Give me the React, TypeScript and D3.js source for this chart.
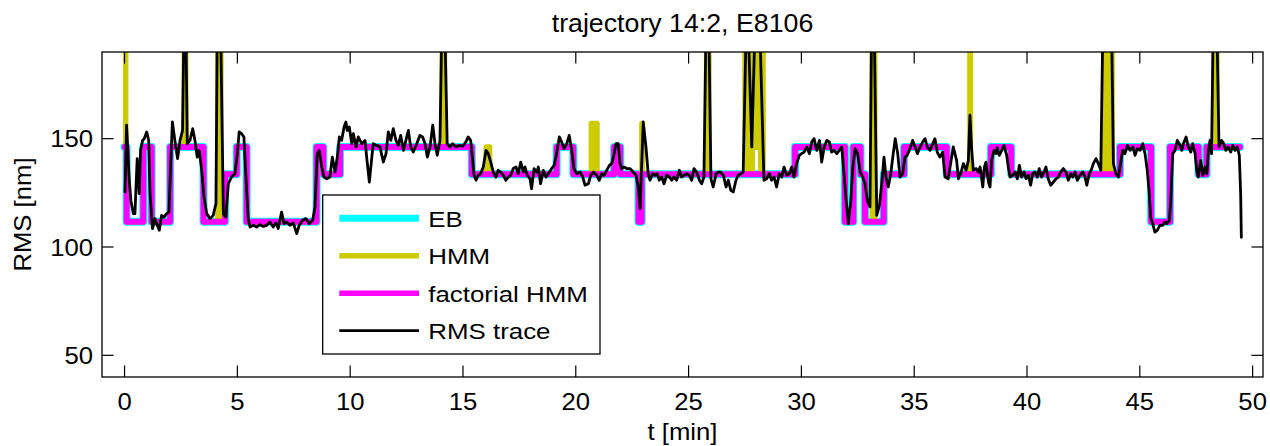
import React from 'react';
import * as d3 from 'd3';

// state levels (nm)
const H = 146.2, M = 133.6, L = 111.6, TOP = 260;

const xTicks = [0, 5, 10, 15, 20, 25, 30, 35, 40, 45, 50];
const yTicks = [50, 100, 150];

const ebT = [0, 0.09, 0.83, 1.2, 2.02, 3.5, 4.45, 4.97, 5.41, 8.51, 8.81, 9.55, 15.39, 19.15, 19.89, 21.7, 21.97, 22.78, 22.92, 29.72, 31.93, 32.3, 32.62, 32.82, 33.65, 34.55, 36.44, 38.4, 39.3, 44.12, 45.5, 46.34, 47.6, 47.96, 49.44];
const ebV = [H, L, H, L, H, L, M, H, L, H, M, H, M, H, M, H, M, L, M, H, L, H, M, L, M, H, M, H, M, H, L, H, M, H, H];

const fhmmT = [0, 0.09, 0.83, 1.2, 2.02, 3.5, 4.45, 4.97, 5.41, 8.51, 8.81, 9.55, 15.39, 19.15, 19.89, 21.7, 21.97, 22.78, 22.92, 29.72, 31.93, 32.3, 32.62, 32.82, 33.65, 34.55, 36.44, 38.4, 39.3, 44.12, 45.5, 46.34, 47.6, 47.96, 49.44];
const fhmmV = [H, L, H, L, H, L, M, H, L, H, M, H, M, H, M, H, M, L, M, H, L, H, M, L, M, H, M, H, M, H, L, H, M, H, H];

const hmmT = [0, 0.05, 0.09, 0.83, 1.2, 2.02, 2.65, 2.71, 3.5, 4.14, 4.27, 4.45, 4.97, 5.41, 8.51, 8.81, 9.55, 14.08, 14.18, 15.39, 16.03, 16.18, 19.15, 19.89, 20.69, 20.79, 20.83, 20.94, 21.7, 21.97, 22.93, 22.95, 25.8, 25.9, 27.5, 27.6, 27.66, 27.76, 27.82, 27.9, 28.12, 28.2, 28.24, 28.3, 29.72, 31.93, 32.3, 32.62, 32.82, 33.14, 33.25, 33.65, 34.55, 36.44, 37.47, 37.49, 38.4, 39.3, 43.42, 43.55, 43.62, 43.77, 44.12, 45.5, 46.34, 47.6, 47.96, 48.3, 48.42, 49.44];
const hmmV = [TOP, H, L, H, L, H, TOP, H, L, TOP, L, M, H, L, H, M, H, TOP, H, M, H, M, H, M, 157, M, 157, M, H, M, 157, M, TOP, M, TOP, M, TOP, M, TOP, 146, TOP, M, TOP, M, H, L, H, M, L, TOP, L, M, H, M, TOP, M, H, M, TOP, M, TOP, M, H, L, H, M, H, TOP, H, H];

const traceT = [0.02, 0.09, 0.21, 0.28, 0.39, 0.46, 0.56, 0.65, 0.71, 0.8, 0.87, 0.98, 1.07, 1.13, 1.24, 1.35, 1.45, 1.54, 1.64, 1.75, 1.86, 1.97, 2.04, 2.12, 2.23, 2.35, 2.46, 2.57, 2.63, 2.72, 2.78, 2.9, 3.02, 3.12, 3.22, 3.31, 3.42, 3.52, 3.64, 3.79, 3.93, 4.05, 4.11, 4.26, 4.38, 4.49, 4.6, 4.74, 4.89, 5.0, 5.08, 5.19, 5.29, 5.41, 5.48, 5.56, 5.71, 5.85, 6.0, 6.15, 6.3, 6.44, 6.59, 6.71, 6.81, 6.96, 7.07, 7.18, 7.33, 7.48, 7.63, 7.74, 7.89, 8.04, 8.19, 8.34, 8.44, 8.54, 8.63, 8.74, 8.84, 8.96, 9.1, 9.21, 9.33, 9.43, 9.52, 9.62, 9.73, 9.81, 9.87, 9.96, 10.07, 10.14, 10.26, 10.36, 10.51, 10.66, 10.73, 10.85, 11.02, 11.17, 11.32, 11.47, 11.59, 11.69, 11.8, 11.91, 12.03, 12.13, 12.24, 12.36, 12.47, 12.58, 12.68, 12.8, 12.95, 13.09, 13.21, 13.32, 13.42, 13.54, 13.66, 13.76, 13.86, 13.98, 14.06, 14.2, 14.3, 14.42, 14.54, 14.69, 14.84, 14.99, 15.13, 15.23, 15.34, 15.43, 15.49, 15.58, 15.68, 15.78, 15.9, 16.02, 16.12, 16.23, 16.34, 16.46, 16.56, 16.67, 16.79, 16.9, 17.01, 17.11, 17.23, 17.35, 17.45, 17.56, 17.67, 17.75, 17.85, 17.97, 18.04, 18.15, 18.27, 18.34, 18.44, 18.56, 18.68, 18.78, 18.93, 19.04, 19.15, 19.27, 19.37, 19.48, 19.6, 19.71, 19.82, 19.92, 20.04, 20.19, 20.31, 20.41, 20.56, 20.66, 20.78, 20.93, 21.04, 21.15, 21.25, 21.37, 21.49, 21.59, 21.69, 21.78, 21.88, 21.96, 22.03, 22.14, 22.26, 22.4, 22.55, 22.67, 22.77, 22.85, 22.99, 23.11, 23.21, 23.29, 23.41, 23.51, 23.61, 23.7, 23.81, 23.91, 24.03, 24.15, 24.25, 24.35, 24.47, 24.59, 24.69, 24.8, 24.92, 25.03, 25.14, 25.24, 25.36, 25.48, 25.58, 25.68, 25.77, 25.9, 25.99, 26.09, 26.22, 26.32, 26.42, 26.54, 26.66, 26.76, 26.87, 26.98, 27.1, 27.2, 27.31, 27.42, 27.55, 27.65, 27.8, 27.94, 28.16, 28.34, 28.46, 28.58, 28.68, 28.79, 28.9, 29.02, 29.13, 29.23, 29.35, 29.46, 29.57, 29.67, 29.79, 29.91, 30.01, 30.12, 30.24, 30.35, 30.46, 30.56, 30.68, 30.8, 30.9, 31.01, 31.13, 31.24, 31.34, 31.45, 31.57, 31.68, 31.79, 31.89, 31.98, 32.08, 32.19, 32.28, 32.38, 32.49, 32.61, 32.72, 32.82, 32.92, 33.04, 33.11, 33.23, 33.34, 33.46, 33.56, 33.66, 33.75, 33.85, 33.96, 34.07, 34.16, 34.27, 34.37, 34.49, 34.59, 34.69, 34.81, 34.93, 35.04, 35.14, 35.26, 35.38, 35.48, 35.58, 35.7, 35.82, 35.92, 36.02, 36.14, 36.26, 36.37, 36.51, 36.66, 36.73, 36.88, 36.96, 37.06, 37.18, 37.3, 37.4, 37.47, 37.55, 37.62, 37.74, 37.84, 37.92, 38.04, 38.11, 38.18, 38.29, 38.36, 38.43, 38.54, 38.63, 38.68, 38.77, 38.88, 38.98, 39.1, 39.17, 39.25, 39.37, 39.47, 39.57, 39.66, 39.76, 39.87, 39.96, 40.06, 40.16, 40.25, 40.35, 40.46, 40.54, 40.65, 40.75, 40.84, 40.94, 41.05, 41.17, 41.29, 41.39, 41.49, 41.61, 41.73, 41.83, 41.94, 42.03, 42.13, 42.23, 42.35, 42.47, 42.57, 42.65, 42.76, 42.87, 42.94, 43.06, 43.16, 43.27, 43.36, 43.75, 43.83, 43.94, 44.05, 44.12, 44.24, 44.34, 44.45, 44.57, 44.69, 44.79, 44.89, 45.01, 45.13, 45.23, 45.33, 45.42, 45.48, 45.57, 45.67, 45.77, 45.89, 46.01, 46.11, 46.19, 46.31, 46.37, 46.46, 46.56, 46.66, 46.75, 46.86, 46.93, 47.05, 47.15, 47.26, 47.34, 47.45, 47.52, 47.59, 47.7, 47.79, 47.89, 47.97, 48.04, 48.11, 48.18, 48.25, 48.42, 48.51, 48.62, 48.72, 48.81, 48.91, 49.03, 49.12, 49.22, 49.32, 49.41, 49.47, 49.5];
const traceV = [125.4, 156.2, 130.8, 121.5, 115.4, 115.4, 140.8, 124.6, 144.6, 149.2, 150, 153.1, 149.2, 124.6, 108.5, 113.1, 110, 107.7, 114.6, 113.8, 115.4, 116.1, 136.9, 157.7, 149.2, 140.8, 149.2, 153.8, 200, 200, 147.7, 149.2, 154.6, 149.2, 141.5, 144.6, 135.4, 123.1, 115.4, 113.1, 114.6, 120, 200, 200, 115.4, 113.8, 129.2, 132.3, 133.8, 143.1, 153.1, 152.3, 150.8, 126.2, 113.1, 109.2, 110, 109.2, 110.3, 109.5, 110, 111.5, 109.2, 111.1, 108.5, 116.1, 110.8, 111.5, 110, 111.1, 106.2, 110, 112.3, 113.1, 110.8, 112.3, 118.5, 143.1, 144.6, 136.9, 132.3, 131.5, 132.3, 141.5, 134.6, 141.5, 150.8, 149.2, 155.4, 157.7, 153.8, 155.4, 147.7, 152.3, 146.2, 150.8, 147.7, 149.2, 141.5, 130, 147.7, 146.9, 146.2, 139.2, 143.1, 153.1, 149.2, 154.6, 149.2, 146.9, 151.5, 144.6, 149.2, 153.8, 146.2, 143.8, 147.7, 151.5, 150.8, 147.7, 141.5, 146.2, 156.2, 147.7, 142.3, 149.2, 200, 200, 147.7, 146.2, 147.7, 146.2, 146.9, 146.5, 148.5, 150.8, 149.2, 140, 133.1, 130.8, 133.1, 133.8, 136.9, 144.6, 143.1, 139.2, 134.6, 132.3, 135.4, 134.6, 133.1, 130.8, 132.3, 133.1, 136.2, 136.9, 133.8, 139.2, 134.6, 136.9, 133.1, 131.5, 126.9, 136.2, 134.6, 136.9, 129.2, 135.4, 132.3, 133.8, 136.2, 137.7, 143.1, 150.8, 148.5, 145.4, 147.7, 151.5, 144.6, 136.2, 133.8, 134.6, 132.3, 128.5, 129.2, 133.1, 134.6, 133.1, 130.8, 133.8, 133.1, 135.4, 137.7, 138.5, 142.3, 147.7, 147.7, 138.5, 136.2, 136.9, 136.2, 136.2, 134.6, 133.1, 127.7, 117.7, 157.7, 146.2, 133.8, 130.8, 133.8, 133.1, 133.8, 130.8, 132.3, 129.2, 133.1, 132.3, 130.8, 132.3, 130.8, 135.4, 132.3, 133.1, 133.8, 133.1, 130.8, 136.2, 134.6, 130.8, 129.2, 132.3, 200, 200, 131.5, 127.7, 133.8, 134.6, 134.6, 133.1, 127.7, 130.8, 126.2, 125.4, 130.8, 133.1, 133.8, 134.6, 200, 200, 146.2, 200, 200, 130.8, 131.5, 133.8, 130.8, 132.3, 127.7, 133.8, 132.3, 136.9, 133.1, 133.8, 136.9, 132.3, 138.5, 142.3, 143.1, 143.8, 146.2, 143.1, 148.5, 150, 144.6, 149.2, 139.2, 146.2, 149.2, 148.5, 143.8, 144.6, 143.1, 144.6, 146.2, 133.8, 121.5, 110.8, 121.5, 136.9, 145.4, 143.1, 134.6, 132.3, 129.2, 121.5, 118.5, 200, 200, 114.6, 119.2, 129.2, 141.5, 132.3, 127.7, 133.8, 143.1, 150, 143.1, 132.3, 133.8, 141.5, 142.3, 145.4, 149.2, 146.2, 143.1, 146.2, 148.5, 150, 146.2, 144.6, 147.7, 150, 143.8, 141.5, 143.8, 132.3, 131.5, 141.5, 146.2, 140, 131.5, 133.8, 138.5, 135.4, 140, 160.8, 144.6, 135.4, 136.2, 134.6, 136.9, 127.7, 136.9, 139.2, 130, 127.7, 140, 144.6, 143.1, 145.8, 142.3, 144.6, 146.9, 142.3, 136.9, 132.3, 133.1, 134.6, 131.5, 137.7, 132.3, 134.6, 131.5, 133.1, 128.5, 133.8, 134.6, 132.3, 136.2, 132.3, 134.6, 136.9, 131.5, 128.5, 130, 131.5, 132.3, 134.6, 136.2, 134.6, 130.8, 133.8, 132.3, 134.6, 130.8, 133.1, 134.6, 132.3, 128.5, 133.8, 136.2, 138.5, 140.8, 138.5, 135.4, 200, 200, 138.5, 133.8, 132.3, 136.9, 144.6, 143.1, 146.9, 144.6, 146.2, 142.3, 145.4, 144.6, 147.7, 143.1, 135.4, 124.6, 113.8, 110.8, 106.9, 107.7, 110, 110, 111.5, 110.8, 112.3, 121.5, 143.1, 144.6, 149.2, 147.7, 144.6, 147.7, 150.8, 146.2, 143.8, 147.7, 143.1, 135.4, 132.3, 140, 133.1, 136.9, 133.8, 144.6, 149.2, 143.1, 200, 200, 146.2, 149.2, 147.7, 144.6, 146.2, 143.8, 146.9, 144.6, 146.2, 142.3, 124.6, 104.5];

const W = 1270, HT = 446;
const AX = { l: 102, r: 1263, t: 52, b: 377 };
const FONT = '"Liberation Sans", Arial, Helvetica, sans-serif';

function pts(ts: number[], vs: number[]): [number, number][] {
  return ts.map((t, i) => [t, vs[i]] as [number, number]);
}

function T(props: { x: number; y: number; size: number; sx?: number; anchor?: string; rotate?: number; children: React.ReactNode }) {
  const { x, y, size, sx = 1.07, anchor = 'start', rotate = 0, children } = props;
  return (
    <g transform={`translate(${x},${y}) rotate(${rotate}) scale(${sx},1)`}>
      <text x={0} y={0} fontSize={size} textAnchor={anchor as any} fill="#000">{children}</text>
    </g>
  );
}

export default function App() {
  const x = d3.scaleLinear().domain([-1, 50.46]).range([AX.l, AX.r]);
  const y = d3.scaleLinear().domain([40, 190]).range([AX.b, AX.t]);

  const stepLine = d3.line<[number, number]>()
    .x(d => x(d[0])).y(d => y(d[1])).curve(d3.curveStepAfter);
  const traceLine = d3.line<[number, number]>()
    .x(d => x(d[0])).y(d => y(d[1]));

  const ebPath = stepLine(pts(ebT, ebV)) || '';
  const hmmPath = stepLine(pts(hmmT, hmmV)) || '';
  const fhmmPath = stepLine(pts(fhmmT, fhmmV)) || '';
  const trPath = traceLine(pts(traceT, traceV)) || '';

  const tick = 11.6;
  const cx = (AX.l + AX.r) / 2;

  const legendItems = [
    { label: 'EB', color: '#00ffff', w: 7 },
    { label: 'HMM', color: '#cccc00', w: 5.5 },
    { label: 'factorial HMM', color: '#ff00ff', w: 5.5 },
    { label: 'RMS trace', color: '#000000', w: 2.8 },
  ];
  const lg = { x: 322.7, y: 195, w: 277.3, h: 159 };
  const rowY = [218.3, 255.7, 293.3, 330.7];

  return (
    <svg width={W} height={HT} style={{ position: 'absolute', left: 0, top: 0, background: '#fff' }} fontFamily={FONT}>
      <defs>
        <clipPath id="ax">
          <rect x={AX.l} y={AX.t} width={AX.r - AX.l} height={AX.b - AX.t} />
        </clipPath>
      </defs>
      <rect x={0} y={0} width={W} height={HT} fill="#fff" />
      <g clipPath="url(#ax)" fill="none" strokeLinejoin="round" strokeLinecap="round">
        <path d={ebPath} stroke="#00ffff" strokeWidth={8} />
        <path d={hmmPath} stroke="#cccc00" strokeWidth={5.5} />
        <path d={fhmmPath} stroke="#ff00ff" strokeWidth={6} />
        <path d={trPath} stroke="#000" strokeWidth={2.8} />
      </g>
      <rect x={AX.l} y={AX.t} width={AX.r - AX.l} height={AX.b - AX.t} fill="none" stroke="#000" strokeWidth={1.3} />
      {xTicks.map(v => (
        <g key={'x' + v}>
          <line x1={x(v)} x2={x(v)} y1={AX.b} y2={AX.b - tick} stroke="#000" strokeWidth={1.2} />
          <line x1={x(v)} x2={x(v)} y1={AX.t} y2={AX.t + tick} stroke="#000" strokeWidth={1.2} />
          <T x={x(v)} y={410} size={24} anchor="middle">{v}</T>
        </g>
      ))}
      {yTicks.map(v => (
        <g key={'y' + v}>
          <line x1={AX.l} x2={AX.l + tick} y1={y(v)} y2={y(v)} stroke="#000" strokeWidth={1.2} />
          <line x1={AX.r} x2={AX.r - tick} y1={y(v)} y2={y(v)} stroke="#000" strokeWidth={1.2} />
          <T x={AX.l - 9} y={y(v) + 8.5} size={24} anchor="end">{v}</T>
        </g>
      ))}
      <T x={cx} y={32} size={25} anchor="middle">trajectory 14:2, E8106</T>
      <T x={cx} y={440} size={24} anchor="middle">t [min]</T>
      <T x={31} y={(AX.t + AX.b) / 2} size={24} anchor="middle" rotate={-90}>RMS [nm]</T>
      <rect x={lg.x} y={lg.y} width={lg.w} height={lg.h} fill="#fff" stroke="#000" strokeWidth={1.3} />
      {legendItems.map((it, i) => (
        <g key={it.label}>
          <line x1={339.3} x2={419} y1={rowY[i]} y2={rowY[i]} stroke={it.color} strokeWidth={it.w} />
          <T x={428.3} y={rowY[i] + 8.2} size={22.5} sx={1.15}>{it.label}</T>
        </g>
      ))}
    </svg>
  );
}
